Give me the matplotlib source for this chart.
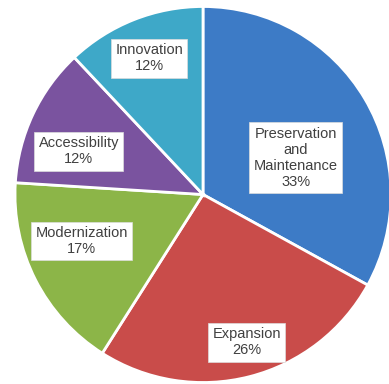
import matplotlib.pyplot as plt
import numpy as np

plt.rcParams['font.family'] = ['Liberation Sans', 'DejaVu Sans']

categories = ['Preservation\nand\nMaintenance', 'Expansion', 'Modernization',
              'Accessibility', 'Innovation']
shares = [33, 26, 17, 12, 12]
colors = ['#3d7bc6', '#c94c4a', '#8cb548', '#7a539f', '#3ea8c8']

# label placement: radius (fraction of pie radius) and angle nudge in degrees
label_r = [0.53, 0.82, 0.69, 0.70, 0.78]
label_dtheta = [-9, 2, -6, 6, 0]

W, H = 389, 384
cx, cy, R = 203, H - 194.5, 188

fig = plt.figure(figsize=(W / 100, H / 100), dpi=100)
ax = fig.add_axes([0, 0, 1, 1])

wedges, _ = ax.pie(shares, colors=colors, startangle=90, counterclock=False,
                   center=(cx, cy), radius=R,
                   wedgeprops=dict(edgecolor='white', linewidth=2))

# pie() resets the limits, so set the pixel-sized frame afterwards
ax.set_xlim(0, W)
ax.set_ylim(0, H)
ax.set_aspect('equal')
ax.axis('off')

for w, name, pct, rf, dt in zip(wedges, categories, shares, label_r, label_dtheta):
    mid = np.deg2rad((w.theta1 + w.theta2) / 2 + dt)
    x = cx + rf * R * np.cos(mid)
    y = cy + rf * R * np.sin(mid)
    ax.text(x, y, f'{name}\n{pct}%', ha='center', va='center', fontsize=10.5,
            color='#404040', linespacing=1.2,
            bbox=dict(boxstyle='square,pad=0.3', facecolor='white',
                      edgecolor='#dddddd', linewidth=0.5))

fig.savefig('out.png', dpi=100)
